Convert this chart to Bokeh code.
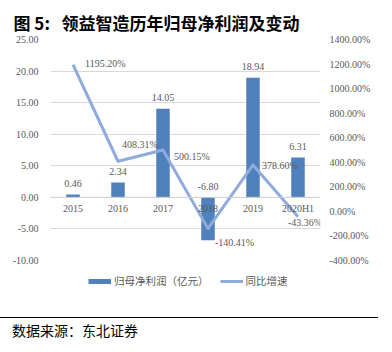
from bokeh.plotting import figure
from bokeh.layouts import column
from bokeh.models import (Range1d, LinearAxis, FixedTicker, PrintfTickFormatter, ColumnDataSource,
                          LabelSet, Legend, LegendItem, Span, Div)
from bokeh.embed import file_html
from bokeh.resources import INLINE

# ---- data ----
years = ["2015", "2016", "2017", "2018", "2019", "2020H1"]
profit = [0.46, 2.34, 14.05, -6.80, 18.94, 6.31]
growth = [1195.20, 408.31, 500.15, -140.41, 378.60, -43.36]
left_ticks = [-10, -5, 0, 5, 10, 15, 20, 25]
right_ticks = [-400, -200, 0, 200, 400, 600, 800, 1000, 1200, 1400]
title_text = "图\u00a05:\u00a0\u00a0\u00a0领益智造历年归母净利润及变动"
source_text = "数据来源：东北证券"
bar_name = "归母净利润（亿元）"
line_name = "同比增速"

# label placement (screen px offsets, style only)
growth_dx = [12, 4, 11, 7, 9, -10]
growth_dy = [1, 17, -6.5, -13.5, -1, -6]

NUM_FONT = "Liberation Serif"
CJK_FONT = "Noto Sans CJK SC"
GRAY = "#595959"
BAR_COLOR = "#4F81BD"
LINE_COLOR = "#8FAADC"

p = figure(x_range=years, y_range=Range1d(-10, 25), width=392, height=268,
           output_backend="svg", toolbar_location=None,
           min_border_left=50, min_border_right=72, min_border_top=39, min_border_bottom=8)
p.extra_y_ranges = {"pct": Range1d(-400, 1400)}
p.outline_line_color = None
p.background_fill_color = "white"
p.border_fill_color = "white"
p.xgrid.grid_line_color = None
p.ygrid.ticker = FixedTicker(ticks=left_ticks)
p.ygrid.grid_line_color = "#D9D9D9"
p.ygrid.grid_line_width = 1

# title
p.title.text = title_text
p.title.text_font = CJK_FONT
p.title.text_font_size = "17px"
p.title.text_font_style = "bold"
p.title.text_color = "black"
p.title.align = "left"
p.title.offset = -37
p.title.standoff = 10

src = ColumnDataSource(dict(x=years, profit=profit, growth=growth))
r_bar = p.vbar(x="x", top="profit", width=0.3, source=src, fill_color=BAR_COLOR, line_color=None)
r_line = p.line(x="x", y="growth", source=src, y_range_name="pct",
                line_color=LINE_COLOR, line_width=3, line_join="round")

def style_axis(ax, standoff):
    ax.major_tick_line_color = None
    ax.minor_tick_line_color = None
    ax.major_tick_out = 0
    ax.major_tick_in = 0
    ax.minor_tick_out = 0
    ax.minor_tick_in = 0
    ax.major_label_standoff = standoff
    ax.major_label_text_font = NUM_FONT
    ax.major_label_text_font_size = "10px"
    ax.major_label_text_color = GRAY

# category labels sit just under the zero line
p.xaxis.visible = False
p.add_layout(Span(location=0, dimension="width", line_color="#D0D0D0", line_width=1))
cat_lbl = ColumnDataSource(dict(x=years, y=[0] * len(years), text=years))
p.add_layout(LabelSet(x="x", y="y", text="text", source=cat_lbl, y_offset=-11,
                      text_align="center", text_baseline="middle",
                      text_font=NUM_FONT, text_font_size="10px", text_color=GRAY))

ya = p.yaxis[0]
ya.ticker = FixedTicker(ticks=left_ticks)
ya.formatter = PrintfTickFormatter(format="%.2f")
ya.axis_line_color = None
style_axis(ya, 12)

ra = LinearAxis(y_range_name="pct", ticker=FixedTicker(ticks=right_ticks),
                formatter=PrintfTickFormatter(format="%.2f%%"))
ra.axis_line_color = None
style_axis(ra, 9)
p.add_layout(ra, "right")

# data labels
bar_lbl = ColumnDataSource(dict(x=years, y=[max(v, 0) for v in profit],
                                text=["%.2f" % v for v in profit]))
p.add_layout(LabelSet(x="x", y="y", text="text", source=bar_lbl, y_offset=11,
                      text_align="center", text_baseline="middle",
                      text_font=NUM_FONT, text_font_size="10px", text_color=GRAY))
line_lbl = ColumnDataSource(dict(x=years, y=growth, text=["%.2f%%" % v for v in growth],
                                 dx=growth_dx, dy=growth_dy))
p.add_layout(LabelSet(x="x", y="y", text="text", source=line_lbl, y_range_name="pct",
                      x_offset="dx", y_offset="dy",
                      text_align="left", text_baseline="middle",
                      text_font=NUM_FONT, text_font_size="10px", text_color=GRAY))

# legend strip under the chart (proxy glyphs with no visible points)
lg = figure(width=392, height=49, x_range=Range1d(0, 1), y_range=Range1d(0, 1),
            output_backend="svg", toolbar_location=None,
            min_border_left=50, min_border_right=72, min_border_top=0, min_border_bottom=0)
lg.xaxis.visible = False
lg.yaxis.visible = False
lg.grid.visible = False
lg.outline_line_color = None
nan = float("nan")
lg_bar = lg.line(x=[nan], y=[nan], line_color=BAR_COLOR, line_width=5, line_cap="butt")
lg_line = lg.line(x=[nan], y=[nan], line_color=LINE_COLOR, line_width=3)
legend = Legend(items=[LegendItem(label=bar_name, renderers=[lg_bar], index=0),
                       LegendItem(label=line_name, renderers=[lg_line], index=0)],
                orientation="horizontal", location=(38, 29),
                padding=0, margin=0, spacing=11, label_standoff=3,
                glyph_width=23, glyph_height=12, label_height=12,
                border_line_color=None, background_fill_alpha=0,
                label_text_font=CJK_FONT, label_text_font_size="10.5px",
                label_text_color=GRAY)
lg.add_layout(legend)

# footer: rule + source
footer = Div(text=source_text, width=378, height=35, margin=0,
             styles={"border-top": "1.8px solid black", "box-sizing": "border-box",
                     "font-family": "Noto Sans CJK SC", "font-size": "14px",
                     "color": "black", "padding-left": "12px", "padding-top": "3px",
                     "line-height": "18px"})

layout = column(p, lg, footer, spacing=0)
open("out.html", "w").write(file_html(layout, INLINE))
